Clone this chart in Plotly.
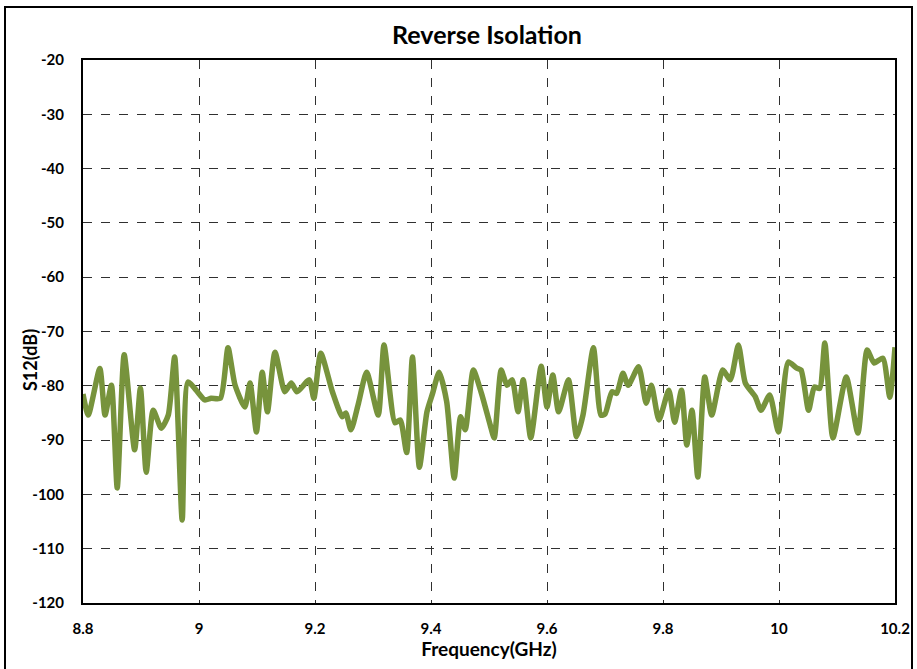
import plotly.graph_objects as go

# Measured S12 sweep (GHz, dB)
freq_ghz = [
    8.800, 8.809, 8.829, 8.838, 8.849, 8.859, 8.871, 8.889, 8.899, 8.909,
    8.921, 8.935, 8.947, 8.958, 8.971, 8.981, 8.995, 9.010, 9.021, 9.037,
    9.050, 9.062, 9.079, 9.088, 9.099, 9.109, 9.118, 9.131, 9.148, 9.159,
    9.169, 9.190, 9.198, 9.210, 9.230, 9.247, 9.253, 9.262, 9.275, 9.289,
    9.309, 9.319, 9.338, 9.347, 9.358, 9.368, 9.380, 9.393, 9.403, 9.414,
    9.427, 9.440, 9.451, 9.459, 9.473, 9.487, 9.502, 9.509, 9.521, 9.531,
    9.540, 9.550, 9.559, 9.572, 9.590, 9.600, 9.610, 9.620, 9.637, 9.651,
    9.662, 9.680, 9.693, 9.700, 9.712, 9.720, 9.731, 9.740, 9.758, 9.771,
    9.780, 9.793, 9.810, 9.820, 9.832, 9.841, 9.850, 9.860, 9.872, 9.884,
    9.903, 9.916, 9.930, 9.942, 9.959, 9.969, 9.984, 9.999, 10.016, 10.030,
    10.038, 10.051, 10.061, 10.070, 10.079, 10.093, 10.116, 10.136, 10.152, 10.164,
    10.179, 10.191, 10.200,
]
s12_db = [
    -81.5, -85.4, -76.8, -85.4, -79.9, -98.8, -74.3, -91.8, -80.4, -95.9,
    -84.5, -87.8, -85.4, -74.7, -104.7, -79.3, -80.8, -82.6, -82.3, -82.3,
    -73.0, -79.8, -83.9, -79.5, -88.5, -77.5, -84.8, -73.8, -81.1, -79.5,
    -81.1, -78.9, -82.3, -74.0, -81.1, -85.7, -85.0, -88.1, -83.2, -77.5,
    -85.4, -72.5, -86.8, -86.3, -92.3, -74.7, -95.0, -84.8, -81.3, -77.5,
    -82.9, -97.0, -85.7, -88.1, -77.1, -81.4, -87.2, -89.6, -77.1, -79.9,
    -78.9, -84.8, -78.9, -89.6, -76.4, -83.9, -78.0, -84.8, -78.9, -89.4,
    -85.4, -73.0, -85.4, -85.2, -81.1, -81.4, -77.7, -79.9, -76.5, -83.2,
    -79.9, -86.3, -80.8, -86.7, -80.8, -90.9, -84.5, -96.8, -78.4, -85.4,
    -77.1, -78.9, -72.5, -79.5, -82.0, -84.5, -81.7, -88.5, -75.6, -76.7,
    -77.1, -84.5, -80.2, -80.5, -72.1, -89.6, -78.4, -88.7, -73.4, -75.8,
    -74.9, -82.1, -72.9,
]

x_ticks = [8.8, 9.0, 9.2, 9.4, 9.6, 9.8, 10.0, 10.2]
x_tick_text = ["8.8", "9", "9.2", "9.4", "9.6", "9.8", "10", "10.2"]
y_ticks = [-120, -110, -100, -90, -80, -70, -60, -50, -40, -30, -20]
y_tick_text = ["-120", "-110", "-100", "-90", "-80", "-70", "-60", "-50", "-40", "-30", "-20"]

FONT = "Lato"

fig = go.Figure()
fig.add_trace(go.Scatter(
    x=freq_ghz, y=s12_db, mode="lines",
    line=dict(color="#77933C", width=5.5, shape="spline", smoothing=0.6),
    showlegend=False, hoverinfo="x+y",
))

W, H = 917, 669
L, R, T, B = 83, 22, 60, 66
pw, ph = W - L - R, H - T - B

def px_to_paper_x(px):
    return (px - L) / pw

def px_to_paper_y(py):
    return (H - B - py) / ph

# outer chart border
fig.add_shape(type="rect", xref="paper", yref="paper",
              x0=px_to_paper_x(5), x1=px_to_paper_x(912),
              y0=px_to_paper_y(675), y1=px_to_paper_y(7),
              line=dict(color="black", width=2), layer="below")

# vertical axis title
fig.add_annotation(text="<b>S12(dB)</b>", xref="paper", yref="paper",
                   x=px_to_paper_x(30), y=px_to_paper_y(360),
                   xanchor="center", yanchor="middle", textangle=-90,
                   showarrow=False, font=dict(size=18, family=FONT, color="black"))

fig.update_layout(
    width=W, height=H,
    margin=dict(l=L, r=R, t=T, b=B, autoexpand=False),
    paper_bgcolor="white", plot_bgcolor="white",
    font=dict(family=FONT, color="black"),
    title=dict(text="<b>Reverse Isolation</b>", x=487 / W,
               xanchor="center", y=1 - 35 / H, yanchor="middle",
               font=dict(size=25, family=FONT, color="black")),
)

fig.update_xaxes(
    range=[8.8, 10.2], tickvals=x_ticks, ticktext=x_tick_text,
    showgrid=True, gridcolor="#303030", griddash="dash", gridwidth=1,
    showline=True, linecolor="black", linewidth=2, mirror=True,
    ticks="outside", ticklen=11, tickcolor="rgba(0,0,0,0)",
    tickfont=dict(size=15, family=FONT, weight="bold"),
    title=dict(text="<b>Frequency(GHz)</b>", font=dict(size=19, family=FONT), standoff=2),
    zeroline=False, automargin=False,
)
fig.update_yaxes(
    range=[-120, -20], tickvals=y_ticks, ticktext=y_tick_text,
    showgrid=True, gridcolor="#303030", griddash="dash", gridwidth=1,
    showline=True, linecolor="black", linewidth=2, mirror=True,
    ticks="outside", ticklen=14, tickcolor="rgba(0,0,0,0)",
    tickfont=dict(size=15, family=FONT, weight="bold"),
    zeroline=False, automargin=False,
)

fig.write_html("out.html")
